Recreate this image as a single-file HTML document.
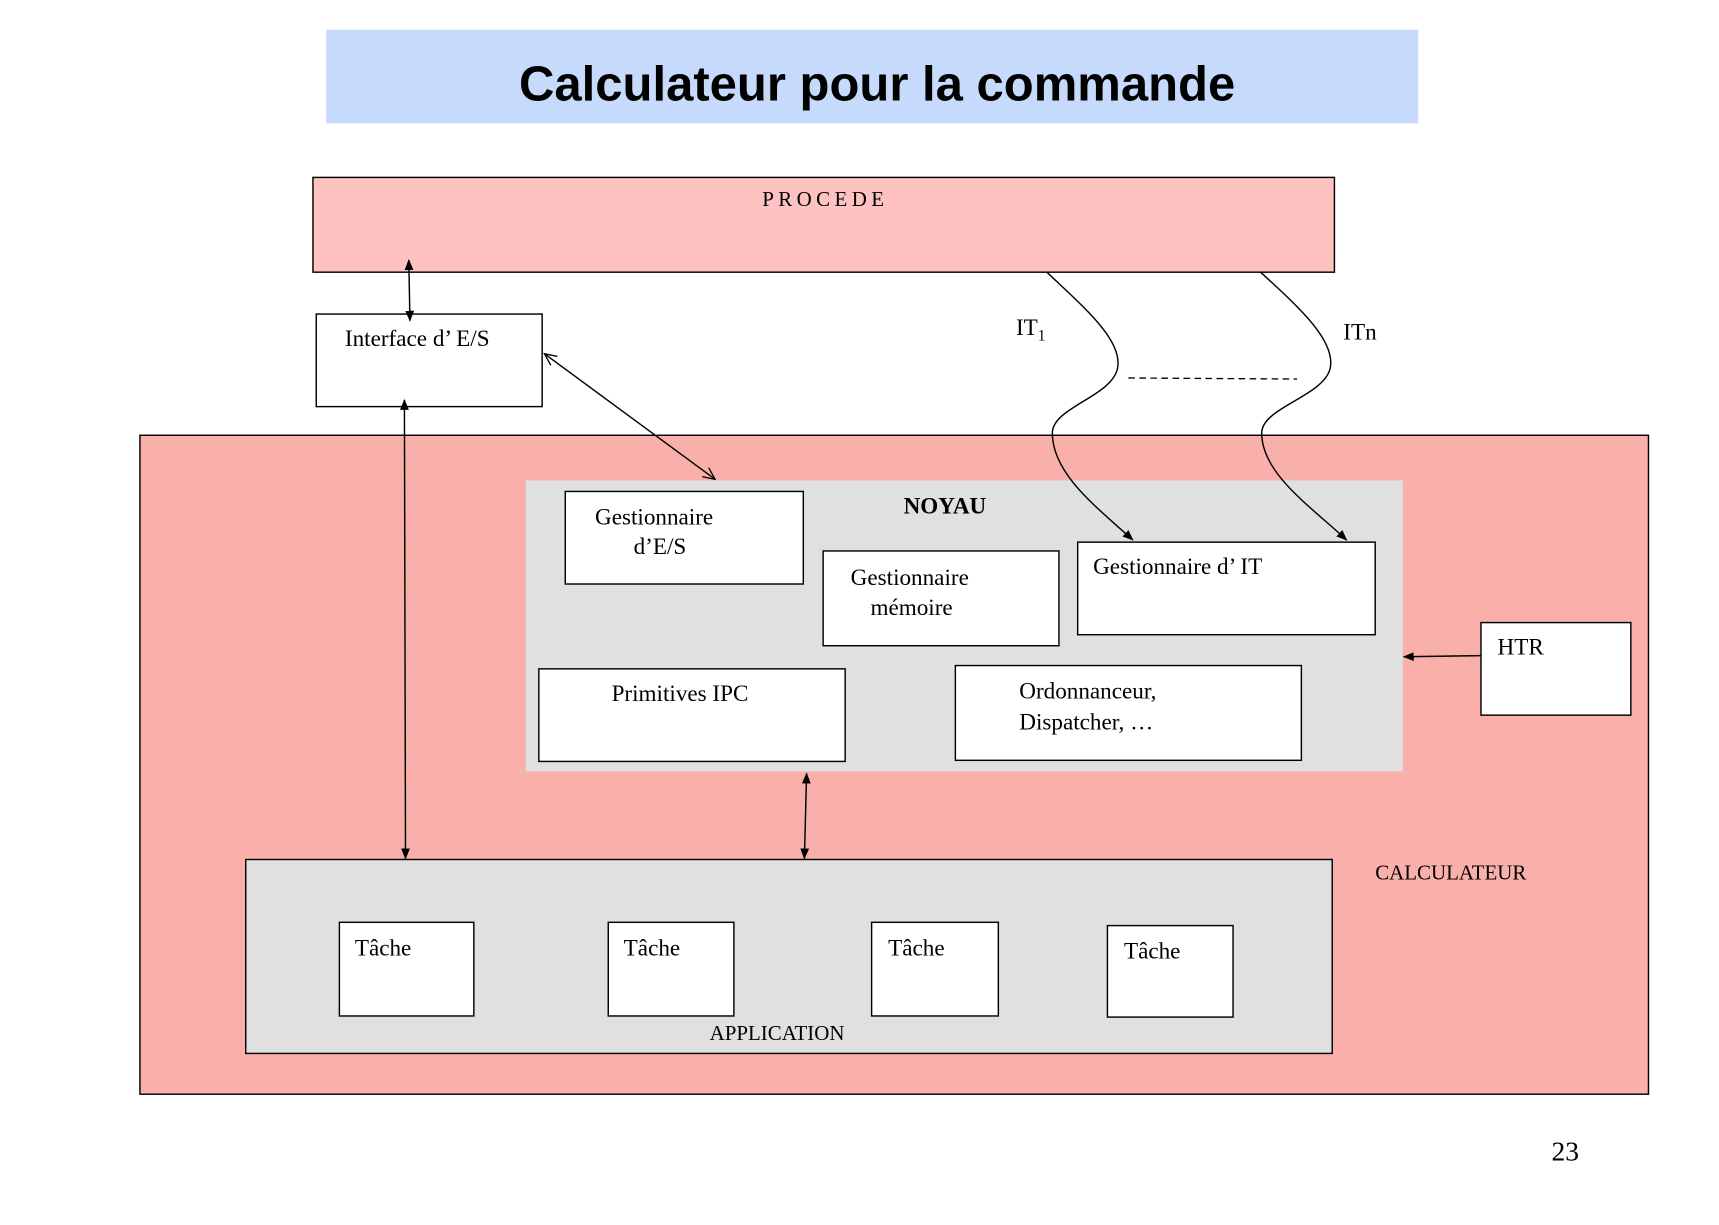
<!DOCTYPE html>
<html><head><meta charset="utf-8"><style>html,body{margin:0;padding:0;background:#fff}svg{display:block}</style></head>
<body>
<svg width="1719" height="1225" viewBox="0 0 1560 1111.7" xmlns="http://www.w3.org/2000/svg" font-family="'Liberation Serif', serif">
<defs>
<marker id="a" markerWidth="10" markerHeight="10" refX="9" refY="5" orient="auto-start-reverse" markerUnits="userSpaceOnUse"><path d="M0,1 L10,5 L0,9 Z" fill="#000"/></marker>
<marker id="o" markerWidth="12" markerHeight="12" refX="11" refY="6" orient="auto-start-reverse" markerUnits="userSpaceOnUse"><path d="M0,1 L11,6 L0,11" fill="none" stroke="#000" stroke-width="1.2"/></marker>
</defs>
<rect x="296" y="27" width="991" height="85" fill="#c6dafb"/>
<text x="796" y="91" text-anchor="middle" font-family="'Liberation Sans', sans-serif" font-weight="bold" font-size="45" textLength="650" lengthAdjust="spacingAndGlyphs">Calculateur pour la commande</text>

<rect x="284" y="161" width="927" height="86" fill="#fec3c1" stroke="#000" stroke-width="1.3"/>
<text x="749" y="187" text-anchor="middle" font-size="19" letter-spacing="4">PROCEDE</text>

<rect x="127" y="395" width="1369" height="598" fill="#f9b0aa" stroke="#000" stroke-width="1.3"/>
<rect x="477" y="436" width="796" height="264" fill="#e0e0e0"/>
<text x="820" y="466" font-size="21" font-weight="bold">NOYAU</text>

<rect x="287" y="285" width="205" height="84" fill="#fff" stroke="#000" stroke-width="1.3"/>
<text x="313" y="314" font-size="21">Interface d’ E/S</text>

<g fill="#fff" stroke="#000" stroke-width="1.3">
<rect x="513" y="446" width="216" height="84"/>
<rect x="747" y="500" width="214" height="86"/>
<rect x="978" y="492" width="270" height="84"/>
<rect x="489" y="607" width="278" height="84"/>
<rect x="867" y="604" width="314" height="86"/>
<rect x="1344" y="565" width="136" height="84"/>
</g>
<g font-size="21">
<text x="540" y="476">Gestionnaire</text>
<text x="575" y="503">d’E/S</text>
<text x="772" y="531">Gestionnaire</text>
<text x="790" y="558">mémoire</text>
<text x="992" y="521">Gestionnaire d’ IT</text>
<text x="555" y="636">Primitives IPC</text>
<text x="925" y="634">Ordonnanceur,</text>
<text x="925" y="662">Dispatcher, …</text>
<text x="1359" y="594">HTR</text>
</g>

<rect x="223" y="780" width="986" height="176" fill="#e0e0e0" stroke="#000" stroke-width="1.3"/>
<g fill="#fff" stroke="#000" stroke-width="1.3">
<rect x="308" y="837" width="122" height="85"/>
<rect x="552" y="837" width="114" height="85"/>
<rect x="791" y="837" width="115" height="85"/>
<rect x="1005" y="840" width="114" height="83"/>
</g>
<g font-size="21">
<text x="322" y="867">Tâche</text>
<text x="566" y="867">Tâche</text>
<text x="806" y="867">Tâche</text>
<text x="1020" y="870">Tâche</text>
</g>
<text x="644" y="944" font-size="19">APPLICATION</text>
<text x="1248" y="798" font-size="19">CALCULATEUR</text>
<text x="1408" y="1053" font-size="25">23</text>

<text x="922" y="304" font-size="21">IT<tspan font-size="14" dy="5">1</tspan></text>
<text x="1219" y="308" font-size="21">ITn</text>
<line x1="1024" y1="343" x2="1177" y2="344" stroke="#000" stroke-width="1.2" stroke-dasharray="6,4"/>

<g fill="none" stroke="#000" stroke-width="1.3">
<line x1="371" y1="236" x2="372" y2="291" marker-start="url(#a)" marker-end="url(#a)"/>
<line x1="367" y1="363" x2="368" y2="779" marker-start="url(#a)" marker-end="url(#a)"/>
<line x1="494" y1="321" x2="649" y2="435" marker-start="url(#o)" marker-end="url(#o)"/>
<line x1="732" y1="702" x2="730" y2="779" marker-start="url(#a)" marker-end="url(#a)"/>
<line x1="1344" y1="595" x2="1274" y2="596" marker-end="url(#a)"/>
<path d="M950,247 C985,280 1020,310 1014,335 C1008,360 955,370 955,393 C955,430 995,460 1028,490" marker-end="url(#a)"/>
<path d="M1144,247 C1180,280 1213,310 1207,335 C1200,360 1145,370 1145,393 C1145,430 1190,460 1222,490" marker-end="url(#a)"/>
</g>
</svg>
</body></html>
